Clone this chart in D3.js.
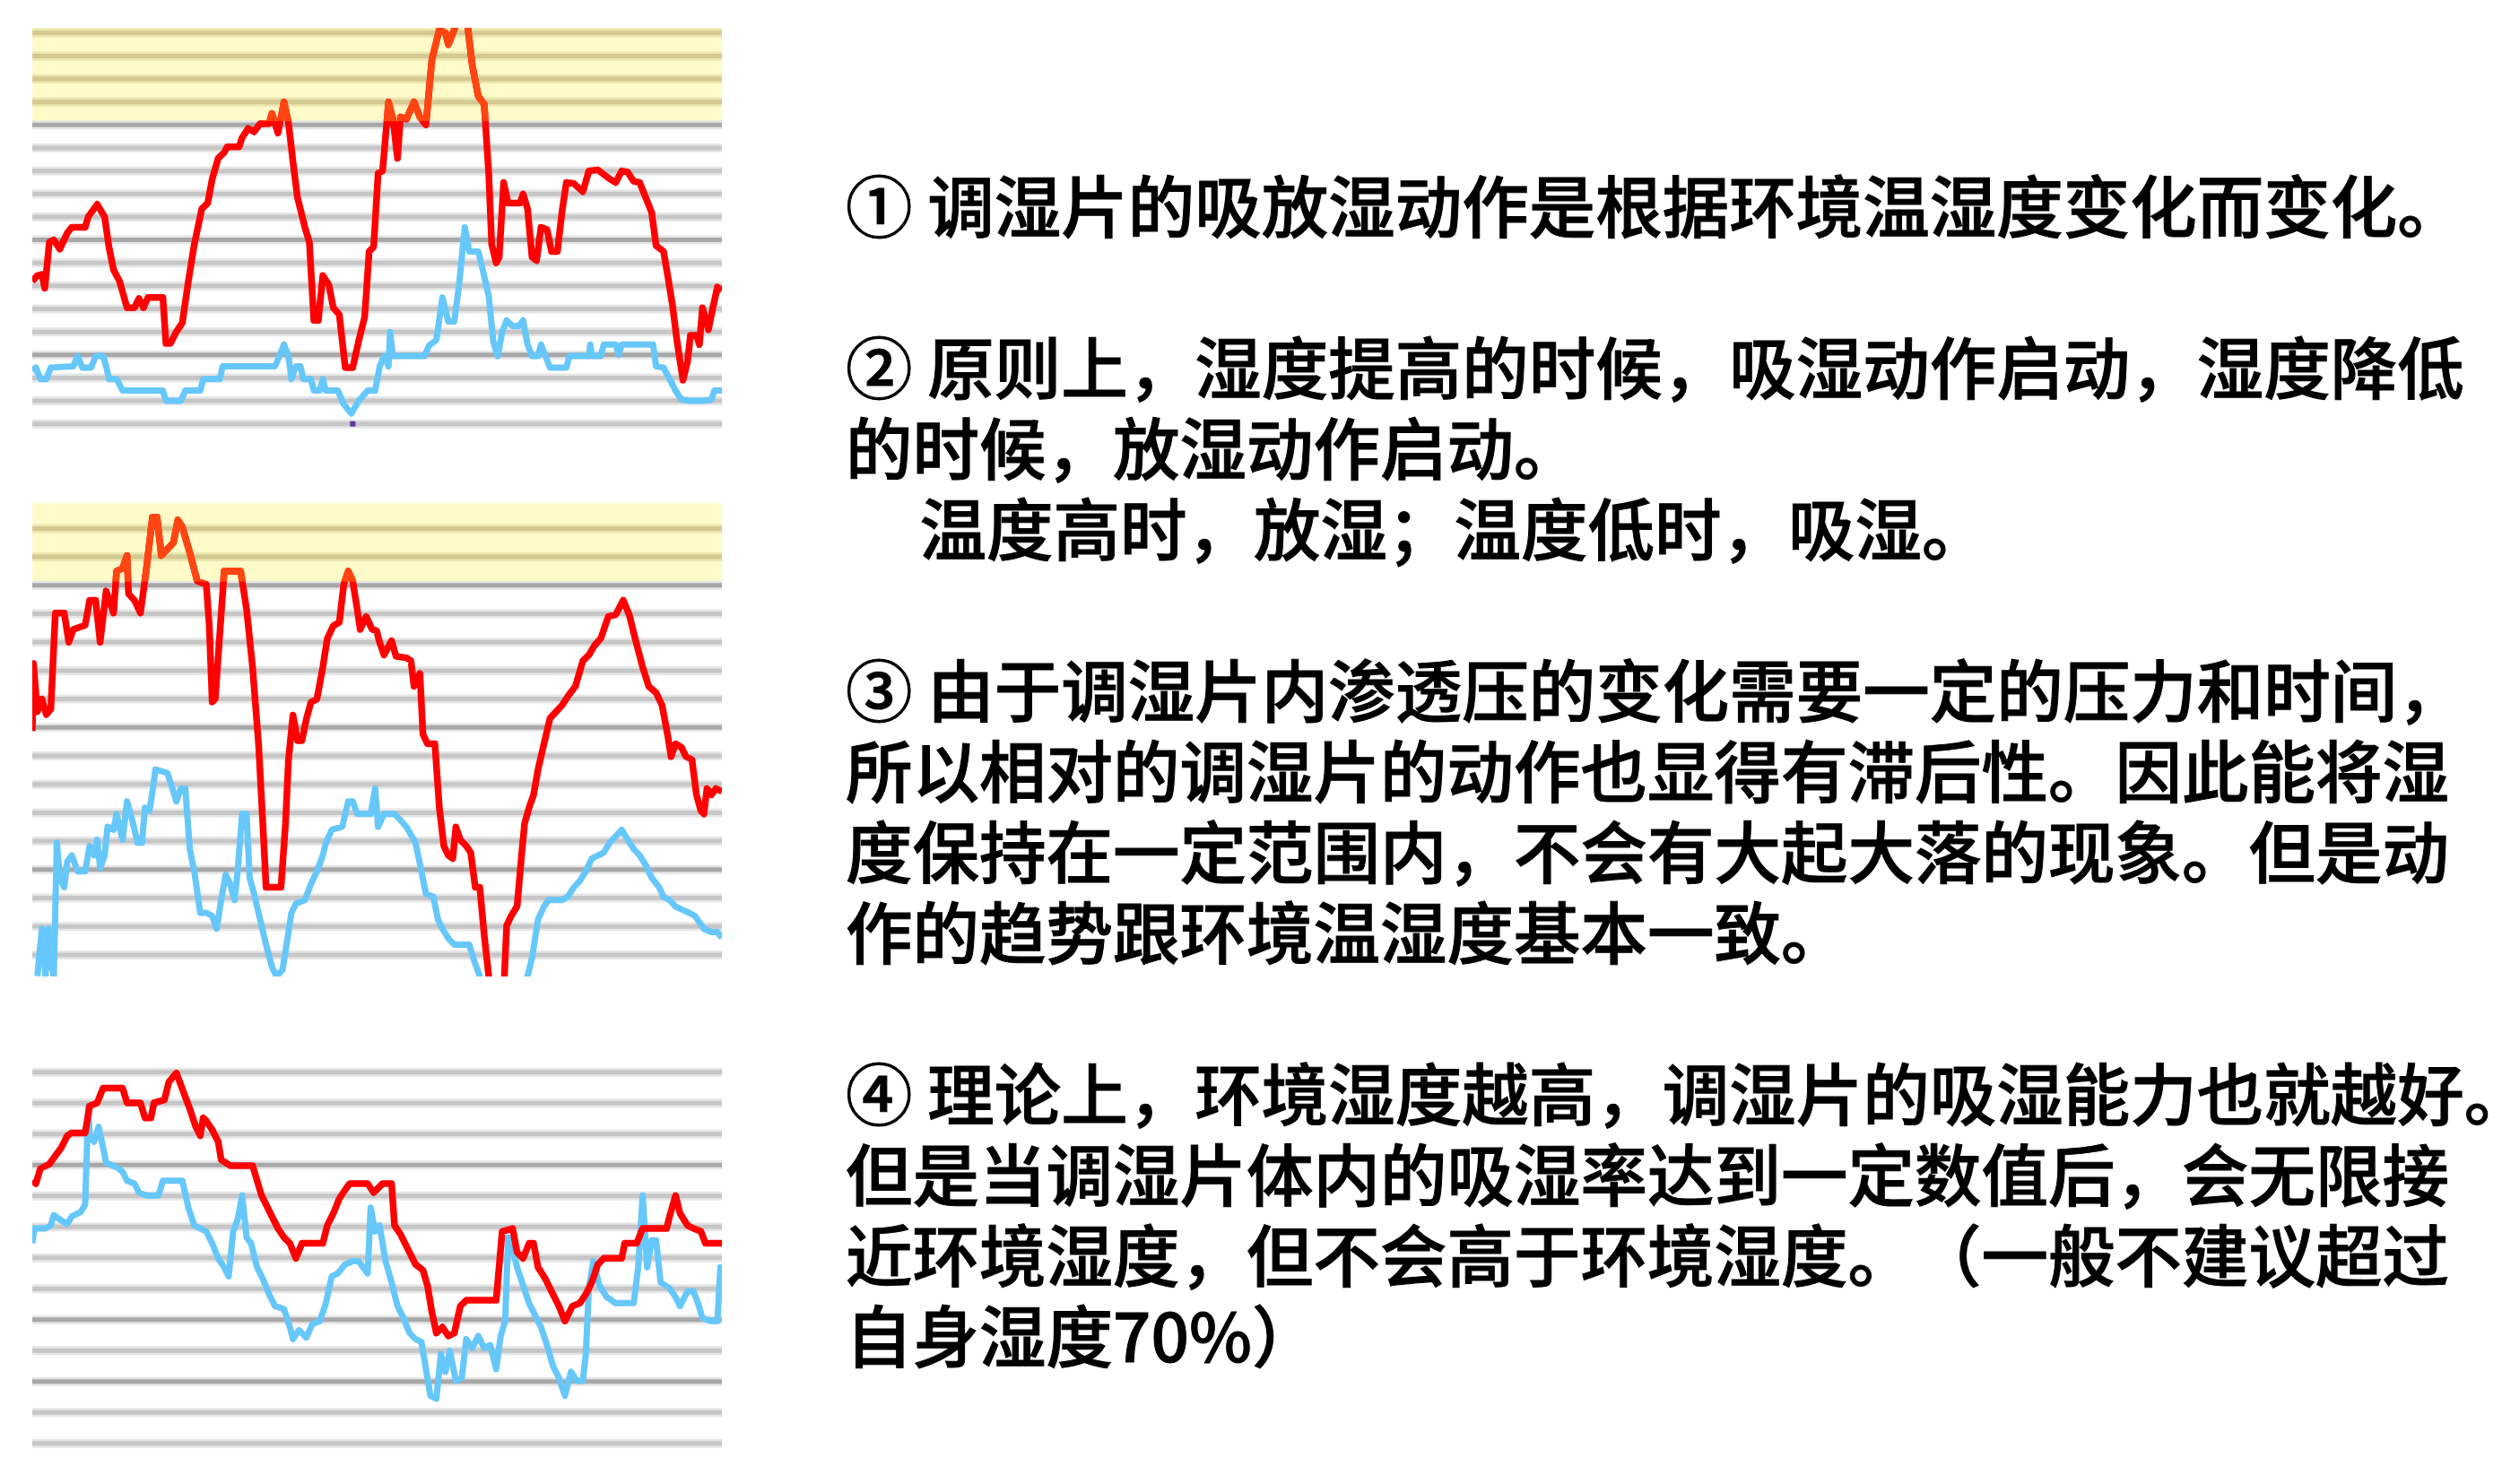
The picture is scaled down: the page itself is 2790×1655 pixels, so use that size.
<!DOCTYPE html>
<html>
<head>
<meta charset="utf-8">
<script src="https://cdn.jsdelivr.net/npm/d3@7/dist/d3.min.js"></script>
<style>
  body { margin: 0; background: #fff; }
  text { white-space: pre; text-spacing-trim: space-all; }
</style>
</head>
<body>
<svg id="chart" width="2790" height="1655"></svg>
<script>
"use strict";

// humidity readings, [time index, %RH]; red = environment, blue = humidity pack
var red1 = [[0,56.4],[0.74,56.9],[1.39,57],[1.82,55.8],[2.47,59.8],[3.12,60],[3.99,59.2],[5.07,60.6],[5.72,61.1],[7.67,61.1],[8.1,62],[9.41,63.1],[10.49,62],[11.14,59.3],[11.79,57.4],[12.66,56.4],[13.74,54.1],[14.82,54.1],[15.47,54.9],[16.12,54.1],[16.77,55],[18.94,55],[19.38,51],[20.03,51],[20.89,52],[21.76,52.8],[22.63,56.4],[23.49,59.6],[24.58,62.7],[25.44,63.2],[26.09,65.3],[26.96,67.1],[27.83,67.6],[28.26,68.1],[29.99,68.1],[30.43,68.9],[31.3,69.7],[32.16,69.4],[33.03,70.1],[34.33,70.1],[34.76,71],[35.63,69.3],[36.5,72],[37.15,70.2],[37.8,66.8],[38.45,63.7],[39.53,61.1],[40.18,59.8],[40.83,53],[41.48,53],[42.13,56.9],[43,56.1],[43.65,54.1],[44.52,53.5],[45.38,48.9],[46.47,48.9],[47.33,51.2],[48.2,53.3],[48.85,59],[49.5,59.4],[50.15,65.8],[50.8,66],[51.66,72],[52.3,70.5],[52.96,67.1],[53.4,70.7],[54.26,70.5],[55.35,72],[56.2,70.7],[57.08,70],[57.95,75.7],[59.03,78.3],[59.9,78],[60.33,77],[61.2,78.3],[62.07,80],[63.15,78.5],[63.8,75.2],[64.67,72.5],[65.53,71.8],[66.19,65.8],[66.62,59.6],[67.27,58],[67.7,58.5],[68.35,65],[69,63.2],[70.74,63.2],[71.17,64],[71.82,62.7],[72.47,58.5],[73.12,58.2],[73.77,61.1],[74.64,60.9],[75.29,59],[76.15,59],[76.8,62.4],[77.45,65],[78.54,64.9],[79.84,64.2],[80.71,66],[82,66.1],[83.74,65.3],[84.6,65],[85.47,66],[86.34,65.9],[87.21,65.1],[88.07,65],[88.94,63.7],[89.81,62.4],[90.46,59.5],[91.54,59],[92.19,56.7],[92.84,54.3],[93.49,51.2],[94.36,47.8],[95.01,49.4],[95.44,51.7],[96.31,51.7],[96.74,50.9],[97.18,54.1],[98.05,52.2],[98.69,54.1],[99.35,55.9],[100,55.6]];

var blue1 = [[0,48.6],[0.52,48.9],[1.17,47.9],[2.04,47.9],[2.69,48.9],[5.94,49],[6.59,49.9],[7.24,48.9],[8.54,48.9],[9.19,49.9],[10.27,49.9],[10.71,49],[11.14,47.9],[12.23,47.9],[13.09,46.9],[18.94,46.9],[19.38,46],[21.54,46],[22.19,46.9],[24.36,46.9],[24.79,47.9],[27.18,47.9],[27.61,49],[35.2,49],[35.85,49.9],[36.5,50.9],[37.15,49.9],[37.58,47.9],[38.23,49],[38.88,49],[39.31,47.9],[40.4,47.9],[40.83,46.9],[41.7,46.9],[42.13,47.9],[42.57,46.9],[44.3,46.9],[45.17,45.7],[46.25,44.9],[47.33,46],[48.63,46.9],[49.72,46.9],[50.37,49],[51.02,49.9],[51.66,49],[51.88,52],[52.3,49.9],[56.87,49.9],[57.52,50.8],[58.6,51.3],[59.47,55],[60.33,52.9],[61.2,52.9],[61.85,55.9],[62.72,61.1],[63.37,59],[64.67,59],[65.32,57.4],[66.19,55.1],[66.84,51.2],[67.49,49.9],[68.14,52],[68.79,53],[69.65,52.5],[70.52,52.5],[71.17,53],[71.82,50.9],[72.47,49.9],[73.34,49.9],[73.77,50.9],[74.42,49.9],[75.07,48.9],[77.45,48.9],[77.89,49.9],[80.71,49.9],[80.92,50.9],[81.14,49.9],[82.44,49.9],[82.87,50.9],[84.6,50.9],[85.04,50],[85.47,50.9],[90.02,50.9],[90.46,49],[91.54,48.9],[92.41,47.9],[93.28,46.9],[94.14,46.1],[95.44,46],[97.18,46],[98.48,46.1],[98.91,46.9],[100,46.9]];

var marks1 = [[46.47,44]];

var red2 = [[0,59.75],[0.17,64.5],[0.74,61.1],[1.39,62],[2.04,60.9],[2.69,61.3],[3.34,68.05],[4.64,68.05],[5.29,66],[5.94,66.9],[7.67,67.2],[8.32,68.95],[9.19,68.95],[9.84,66],[10.71,69.6],[11.79,68.05],[12.22,71],[13.09,71.2],[13.74,72.1],[13.96,69.4],[14.82,68.95],[15.69,68.05],[16.56,71.2],[17.43,74.8],[18.08,74.8],[18.72,72.1],[20.46,73],[21.11,74.6],[21.76,74.1],[22.84,72.3],[23.92,70.3],[25.23,70.07],[25.66,67.2],[26.09,61.8],[26.53,62],[27.18,66.5],[27.83,71],[30.21,71],[31.08,68.3],[31.95,64.2],[32.81,58.85],[33.46,53],[33.9,48.76],[36.07,48.76],[36.72,53.25],[37.15,57.73],[37.8,60.87],[38.45,59.08],[39.1,59.08],[39.75,60.6],[40.4,61.77],[41.27,62],[42.13,64.24],[42.78,66.26],[43.65,67.15],[44.52,67.4],[45.17,70.07],[45.82,71],[46.47,70.3],[47.12,68.3],[47.55,66.9],[48.42,67.8],[49.28,66.9],[49.94,66.8],[50.36,66],[51.01,65.1],[52.1,66.1],[52.75,65],[54.26,64.9],[54.91,64.7],[55.35,62.9],[56.21,63.8],[56.65,59.52],[57.3,58.85],[58.38,58.85],[59.03,54.36],[59.68,51.67],[60.33,51],[60.98,50.78],[61.42,53],[62.07,52.1],[62.93,51.67],[63.58,51.2],[64.23,48.76],[64.89,48.76],[65.53,45.4],[66.19,42.5],[66.62,41.3],[68.35,41.3],[68.79,46.07],[69.44,46.74],[70.3,47.41],[70.95,51],[71.39,53.25],[72.04,54.36],[72.69,55.26],[73.34,57.05],[74.2,58.85],[75.07,60.64],[75.94,61.1],[76.8,61.55],[77.67,62.2],[78.76,62.9],[79.84,64.69],[80.71,65.1],[81.57,65.8],[82.44,66.26],[83.52,67.8],[84.6,67.94],[85.69,68.95],[86.56,67.94],[87.42,66.26],[88.51,64.24],[89.38,62.9],[90.46,62.44],[91.33,61.55],[92.19,59.3],[92.63,57.95],[93.28,58.85],[94.14,58.6],[94.79,57.95],[95.66,57.73],[96.31,55.26],[96.96,54.14],[97.39,53.92],[97.83,55.7],[98.48,55.26],[99.13,55.7],[100,55.5]];

var blue2 = [[0.74,42.5],[1.39,45.84],[1.91,42.5],[2.34,45.84],[2.69,43.4],[3.12,42.5],[3.56,51.9],[3.99,49.43],[4.64,48.76],[5.07,50.55],[5.72,51],[6.59,49.88],[7.67,49.88],[8.32,51.67],[8.97,51],[9.41,52.1],[9.84,50.1],[10.49,51],[10.92,53.02],[11.79,52.8],[12.22,53.9],[13.09,52.1],[13.74,54.8],[14.39,53.7],[15.26,51.9],[15.91,51.9],[16.34,54.36],[16.99,54.14],[17.43,55.5],[17.86,57.05],[19.59,56.8],[20.46,55.5],[20.89,54.8],[21.54,55.7],[22.19,55.7],[22.84,51.45],[23.49,49.88],[24.36,46.96],[25.23,46.96],[26.09,46.74],[26.74,45.84],[27.39,47.86],[28.05,49.65],[28.7,48.98],[29.34,47.86],[29.78,49.88],[30.43,53.92],[31.08,53.92],[31.51,49.43],[32.16,48.3],[33.03,46.5],[33.9,44.72],[34.76,43.15],[35.41,42.5],[36.28,42.93],[36.93,44.9],[37.58,46.96],[38.23,47.6],[39.53,47.86],[40.4,48.98],[41.27,49.88],[42.13,51],[42.57,51.9],[43.43,52.8],[44.95,53.02],[45.82,54.8],[46.47,54.8],[47.12,53.92],[49.07,53.92],[49.72,55.7],[50.15,53],[51.01,53.92],[52.53,53.92],[53.4,53.47],[54.26,53],[55.57,51.9],[56.43,49.88],[57.08,48.3],[58.17,48.08],[58.82,46.5],[59.47,45.84],[60.33,45.17],[61.2,44.72],[63.37,44.72],[63.92,43.8],[64.89,42.5],[65.53,41.3],[71.17,41.3],[71.82,42.5],[72.47,43.8],[73.34,46.5],[74.2,47.4],[74.85,47.86],[76.8,47.86],[77.67,48.1],[78.54,48.76],[79.4,49.2],[80.27,49.88],[81.14,50.78],[82.87,51.2],[83.74,51.9],[84.6,52.35],[85.47,52.8],[86.34,52.1],[87.21,51.45],[88.07,51],[88.94,50.33],[89.81,49.43],[90.89,48.76],[91.54,48.08],[92.41,47.86],[93.28,47.4],[94.14,47.2],[95.23,46.96],[96.09,46.74],[96.74,46.3],[97.39,45.84],[98.48,45.6],[99.35,45.6],[100,45.2]];

var red3 = [[0,58.99],[0.52,58.8],[1.17,59.77],[2.47,60.06],[3.55,60.73],[4.2,61.12],[5.07,61.89],[5.72,62.08],[7.67,62.08],[8.32,63.82],[9.41,64.02],[10.27,64.98],[13.09,64.98],[13.74,64.02],[15.69,64.02],[16.34,63.05],[17.21,63.05],[17.64,64.02],[19.16,64.21],[19.81,65.37],[20.89,65.95],[21.54,65.18],[22.19,64.4],[22.84,63.63],[23.71,62.47],[24.36,61.89],[24.79,63.05],[25.23,62.86],[26.09,62.28],[26.96,61.51],[27.39,60.35],[28.7,59.96],[31.95,59.96],[32.6,58.99],[33.25,58.03],[33.9,57.45],[34.76,56.67],[35.63,55.9],[36.5,55.32],[37.36,54.94],[38.23,53.97],[39.1,54.94],[42.13,54.94],[42.78,56.1],[43.65,56.87],[44.52,57.83],[45.38,58.41],[46.03,58.8],[48.63,58.8],[49.5,58.22],[50.8,58.8],[52.1,58.8],[52.53,56.1],[53.4,55.52],[54.48,54.55],[55.57,53.58],[56.65,53.2],[57.3,52.23],[57.95,50.49],[58.6,49.14],[59.47,49.52],[60.33,48.95],[61.2,49.14],[62.07,50.88],[62.93,51.26],[67.27,51.26],[68.14,55.71],[69.65,55.9],[70.3,54.36],[71.17,53.97],[72.04,54.94],[72.69,54.94],[73.34,53.39],[74.42,52.62],[75.5,51.65],[76.37,50.88],[77.24,49.91],[78.32,50.88],[79.4,51.07],[80.27,51.65],[81.14,52.42],[82.01,53.58],[82.87,53.97],[85.47,53.97],[85.91,54.94],[87.64,54.94],[88.51,55.9],[91.98,55.9],[92.41,56.67],[93.28,58.03],[93.93,56.87],[95.01,56.1],[95.88,55.9],[96.96,55.71],[97.61,54.94],[100,54.94]];

var blue3 = [[0,54.94],[0.3,55.9],[1.82,55.9],[2.69,56.1],[3.12,56.77],[3.99,56.48],[5.07,56.19],[5.72,56.67],[7.02,56.96],[7.67,57.45],[8.11,63.82],[8.32,61.89],[8.97,61.51],[9.62,62.47],[10.27,61.12],[10.71,60.15],[12.22,59.86],[13.09,59.57],[13.74,58.99],[14.82,58.8],[15.47,58.22],[16.56,58.03],[18.29,58.03],[18.94,58.99],[21.76,58.99],[22.63,57.25],[23.49,56.1],[25.23,55.71],[26.09,54.94],[26.96,53.97],[27.83,53.39],[28.48,52.81],[29.13,55.71],[29.78,56.48],[30.43,58.03],[31.08,55.32],[31.73,54.94],[32.6,53.39],[33.46,52.62],[34.33,51.65],[35.2,50.88],[36.5,50.69],[37.36,49.52],[37.8,48.75],[38.66,49.33],[39.75,48.85],[40.62,49.72],[41.7,49.91],[42.57,51.07],[43.43,52.81],[44.3,53],[45.38,53.58],[46.47,53.78],[47.33,53.78],[48.63,53],[49.07,57.25],[49.72,55.71],[50.36,56.1],[51.23,53.78],[52.1,52.42],[52.96,50.88],[53.83,50.11],[54.7,49.14],[55.57,48.75],[56.43,48.56],[57.08,46.82],[57.73,45.08],[58.6,44.89],[59.25,47.79],[59.9,46.63],[60.55,47.98],[61.42,46.05],[62.28,46.24],[62.93,48.75],[63.8,48.17],[64.67,48.95],[65.53,48.17],[66.4,48.36],[67.27,46.82],[67.92,48.95],[68.57,49.91],[69,55.32],[69.65,54.55],[70.3,53.39],[71.17,52.23],[72.04,51.07],[72.9,50.3],[73.77,49.52],[74.64,48.36],[75.5,47.01],[76.37,46.24],[77.24,45.08],[78.11,46.63],[78.97,46.05],[79.84,46.05],[80.27,47.79],[80.71,52.04],[81.36,53.78],[82.22,52.23],[83.31,51.46],[84.6,51.07],[87.21,51.07],[87.86,53.39],[88.51,58.03],[89.16,53.39],[89.81,55.13],[90.46,55.13],[91.11,52.42],[92.41,52.04],[93.28,51.46],[93.93,50.88],[95.01,51.84],[95.88,51.84],[96.53,51.07],[97.18,50.11],[98.48,49.91],[99.35,49.91],[99.78,53.39],[100,53]];

// grid levels (%RH) per panel, and the heavier ones
var grid1 = [44,46,48,50,52,54,56,58,60,62,64,66,68,70,72,74,76,78];
var grid2 = [44,46,48,50,52,54,56,58,60,62,64,66,68,70,72,74];
var grid3 = [42,44,46,48,50,52,54,56,58,60,62,64,66];
var heavy1 = [50,60,70];
var heavy2 = [50,60,70];
var heavy3 = [46,50,60];
var limit = 70;   // shaded above this

var notes = [
  [0,  "① 调湿片的吸放湿动作是根据环境温湿度变化而变化。"],
  [2,  "② 原则上，湿度提高的时候，吸湿动作启动，湿度降低"],
  [3,  "的时候，放湿动作启动。"],
  [4,  "\u3000温度高时，放湿；温度低时，吸湿。"],
  [6,  "③ 由于调湿片内渗透压的变化需要一定的压力和时间，"],
  [7,  "所以相对的调湿片的动作也显得有滞后性。因此能将湿"],
  [8,  "度保持在一定范围内，不会有大起大落的现象。但是动"],
  [9,  "作的趋势跟环境温湿度基本一致。"],
  [11, "④ 理论上，环境湿度越高，调湿片的吸湿能力也就越好。"],
  [12, "但是当调湿片体内的吸湿率达到一定数值后，会无限接"],
  [13, "近环境湿度，但不会高于环境湿度。（一般不建议超过"],
  [14, "自身湿度70%）"]
];

var svg = d3.select("#chart");
svg.append("rect").attr("width", 2790).attr("height", 1655).attr("fill", "#fff");

var x = d3.scaleLinear().domain([0, 100]).range([36, 805]);

function panel(id, o) {
  var g = svg.append("g");
  var y = d3.scaleLinear().domain(o.domain).range(o.range);
  var yellowTop = o.top, yellowBot = y(limit) - 4;

  g.append("clipPath").attr("id", "box" + id)
    .append("rect")
    .attr("x", x(0)).attr("y", o.top)
    .attr("width", x(100) - x(0)).attr("height", o.bottom - o.top);
  g.append("clipPath").attr("id", "hot" + id)
    .append("rect")
    .attr("x", x(0)).attr("y", yellowTop)
    .attr("width", x(100) - x(0)).attr("height", Math.max(0, yellowBot - yellowTop));

  if (o.shade) {
    g.append("rect")
      .attr("x", x(0)).attr("y", yellowTop)
      .attr("width", x(100) - x(0)).attr("height", yellowBot - yellowTop)
      .attr("fill", "#fffbc9");
  }

  // grid
  var hot = function(d) { return o.shade && d > limit; };
  g.selectAll("line.halo").data(o.grid).enter().append("line")
    .attr("class", "halo")
    .attr("x1", x(0)).attr("x2", x(100))
    .attr("y1", function(d) { return y(d) }).attr("y2", function(d) { return y(d) })
    .style("stroke", function(d) { return hot(d) ? "#ece5ae" : "#e6e6e6" })
    .style("stroke-width", 10);
  g.selectAll("line.grid").data(o.grid).enter().append("line")
    .attr("class", "grid")
    .attr("x1", x(0)).attr("x2", x(100))
    .attr("y1", function(d) { return y(d) }).attr("y2", function(d) { return y(d) })
    .style("stroke", function(d) {
      if (hot(d)) return "#d2ca92";
      return o.heavy.indexOf(d) >= 0 ? "#a8a8a8" : "#c6c6c6";
    })
    .style("stroke-width", 5);

  var line = d3.line()
    .x(function(d) { return x(d[0]) })
    .y(function(d) { return y(d[1]) });

  var plot = g.append("g").attr("clip-path", "url(#box" + id + ")");
  plot.append("path").datum(o.blue)
    .attr("d", line)
    .style("fill", "none").style("stroke", "#66c7fb")
    .style("stroke-width", 7).style("stroke-linejoin", "round");
  plot.append("path").datum(o.red)
    .attr("d", line)
    .style("fill", "none").style("stroke", "#ff0000")
    .style("stroke-width", 7.5).style("stroke-linejoin", "round");
  if (o.shade) {
    plot.append("g").attr("clip-path", "url(#hot" + id + ")")
      .append("path").datum(o.red)
      .attr("d", line)
      .style("fill", "none").style("stroke", "#ff4612")
      .style("stroke-width", 7.5).style("stroke-linejoin", "round");
  }
  if (o.marks) {
    plot.selectAll("rect.mark").data(o.marks).enter().append("rect")
      .attr("class", "mark")
      .attr("x", function(d) { return x(d[0]) - 3 })
      .attr("y", function(d) { return y(d[1]) - 3 })
      .attr("width", 6).attr("height", 6)
      .attr("fill", "#5b3a9c");
  }
}

panel(1, { red: red1, blue: blue1, marks: marks1, grid: grid1, heavy: heavy1, shade: true,
           domain: [44, 78], range: [472.7, 36.8], top: 31, bottom: 477 });
panel(2, { red: red2, blue: blue2, grid: grid2, heavy: heavy2, shade: true,
           domain: [44, 74], range: [1064.9, 589.4], top: 561, bottom: 1089 });
panel(3, { red: red3, blue: blue3, grid: grid3, heavy: heavy3, shade: false,
           domain: [42, 66], range: [1609.8, 1195.8], top: 1188, bottom: 1616 });

// explanation text
svg.selectAll("text.note").data(notes).enter().append("text")
  .attr("class", "note")
  .attr("x", function(d) { return d[1].charAt(0) === "\u3000" ? 951 : 943 })
  .attr("y", function(d) { return 226 + 90 * d[0] })
  .attr("dominant-baseline", "central")
  .style("font-family", "'Noto Sans CJK SC', 'Noto Sans', sans-serif")
  .style("font-size", "74.5px")
  .style("font-weight", 500)
  .style("fill", "#000")
  .style("stroke", "#000")
  .style("stroke-width", 1)
  .text(function(d) { return d[1] });
</script>
</body>
</html>
